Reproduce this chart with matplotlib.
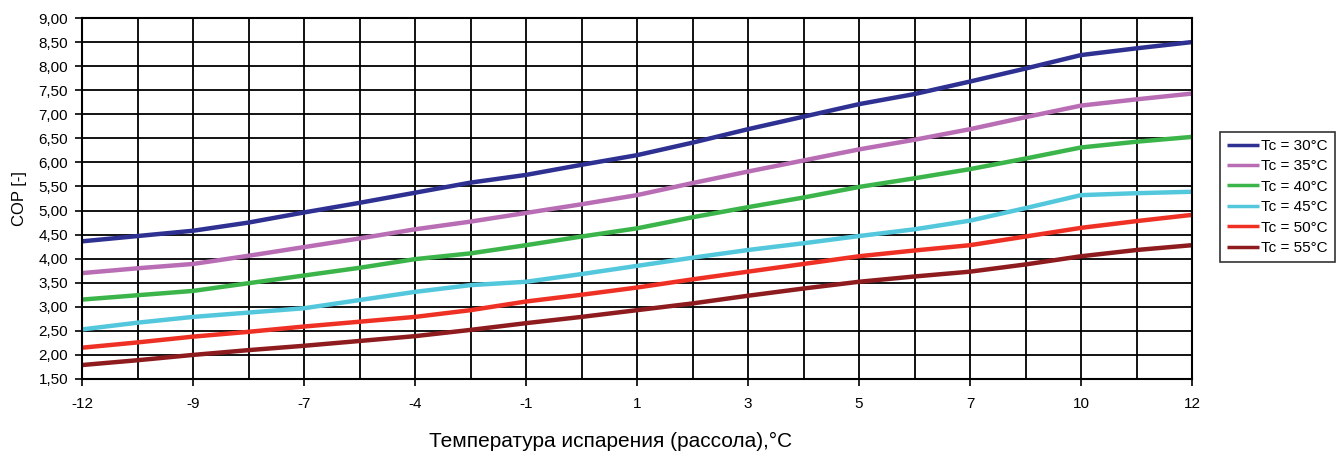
import matplotlib
matplotlib.use("Agg")
import matplotlib.pyplot as plt
from matplotlib.ticker import FixedLocator, FuncFormatter

plt.rcParams['font.family'] = ['Liberation Sans', 'DejaVu Sans']

# 21 category positions; every second one carries a label
x_labels = ['-12', '-9', '-7', '-4', '-1', '1', '3', '5', '7', '10', '12']
n_points = 21

series_names = ['Tc = 30°C', 'Tc = 35°C', 'Tc = 40°C', 'Tc = 45°C', 'Tc = 50°C', 'Tc = 55°C']
tc30 = [4.36, 4.47, 4.58, 4.75, 4.96, 5.16, 5.37, 5.58, 5.74, 5.95, 6.15,
        6.41, 6.69, 6.95, 7.21, 7.42, 7.68, 7.95, 8.23, 8.37, 8.50]
tc35 = [3.70, 3.80, 3.89, 4.06, 4.24, 4.42, 4.61, 4.77, 4.95, 5.13, 5.32,
        5.57, 5.81, 6.04, 6.27, 6.47, 6.69, 6.94, 7.18, 7.31, 7.43]
tc40 = [3.15, 3.24, 3.33, 3.49, 3.65, 3.81, 3.99, 4.11, 4.28, 4.46, 4.63,
        4.86, 5.07, 5.27, 5.49, 5.67, 5.86, 6.08, 6.31, 6.43, 6.53]
tc45 = [2.53, 2.67, 2.79, 2.88, 2.97, 3.14, 3.31, 3.45, 3.52, 3.68, 3.85,
        4.02, 4.18, 4.32, 4.47, 4.61, 4.79, 5.05, 5.32, 5.36, 5.39]
tc50 = [2.15, 2.26, 2.38, 2.48, 2.59, 2.69, 2.79, 2.93, 3.11, 3.25, 3.40,
        3.57, 3.73, 3.89, 4.05, 4.17, 4.28, 4.46, 4.64, 4.78, 4.91]
tc55 = [1.79, 1.89, 2.00, 2.10, 2.19, 2.29, 2.39, 2.52, 2.66, 2.79, 2.93,
        3.07, 3.23, 3.38, 3.52, 3.63, 3.73, 3.88, 4.05, 4.18, 4.28]
colors = ['#2E3192', '#B96DB4', '#3BB54A', '#53C8DD', '#EE3124', '#8E1B1E']

fig = plt.figure(figsize=(13.39, 4.57), dpi=100)
ax = fig.add_axes([82/1339, 1 - 379/457, (1192-82)/1339, (379-18)/457])

xs = list(range(n_points))
for name, ys, c in zip(series_names, [tc30, tc35, tc40, tc45, tc50, tc55], colors):
    ax.plot(xs, ys, color=c, lw=3.2, label=name, solid_capstyle='butt')

ax.set_xlim(0, n_points - 1)
ax.set_ylim(1.5, 9.0)
ax.set_xticks(range(0, n_points, 2))
ax.set_xticklabels(x_labels)
ax.xaxis.set_minor_locator(FixedLocator(range(1, n_points, 2)))
ax.set_yticks([1.5 + 0.5 * i for i in range(16)])
ax.yaxis.set_major_formatter(FuncFormatter(lambda v, p: f"{v:.2f}".replace('.', ',')))

ax.grid(True, which='both', color='black', lw=1.3)
ax.set_axisbelow(True)
ax.tick_params(axis='x', which='minor', length=0)
ax.tick_params(axis='both', which='major', length=5, width=1.2, color='black',
               labelsize=11, direction='out')
ax.tick_params(axis='x', pad=8)
ax.tick_params(axis='y', pad=5)
for s in ax.spines.values():
    s.set_color('black')
    s.set_linewidth(1.5)

ax.set_ylabel('COP [-]', fontsize=12, labelpad=8)
ax.set_xlabel('Температура испарения (рассола),°C', fontsize=15, labelpad=15)
ax.xaxis.set_label_coords(611/1339, 1 - 441/457, transform=fig.transFigure)
ax.xaxis.label.set_va('center')

leg = ax.legend(loc='center left', bbox_to_anchor=(1220/1339, 1 - 197/457),
                bbox_transform=fig.transFigure, frameon=True, fancybox=False,
                fontsize=11, handlelength=2.1, handletextpad=0.15,
                labelspacing=0.42, borderpad=0.45, borderaxespad=0)
leg.get_frame().set_edgecolor('black')
leg.get_frame().set_linewidth(1.2)
for h in leg.get_lines():
    h.set_linewidth(2.5)

fig.savefig('out.png', dpi=100)
